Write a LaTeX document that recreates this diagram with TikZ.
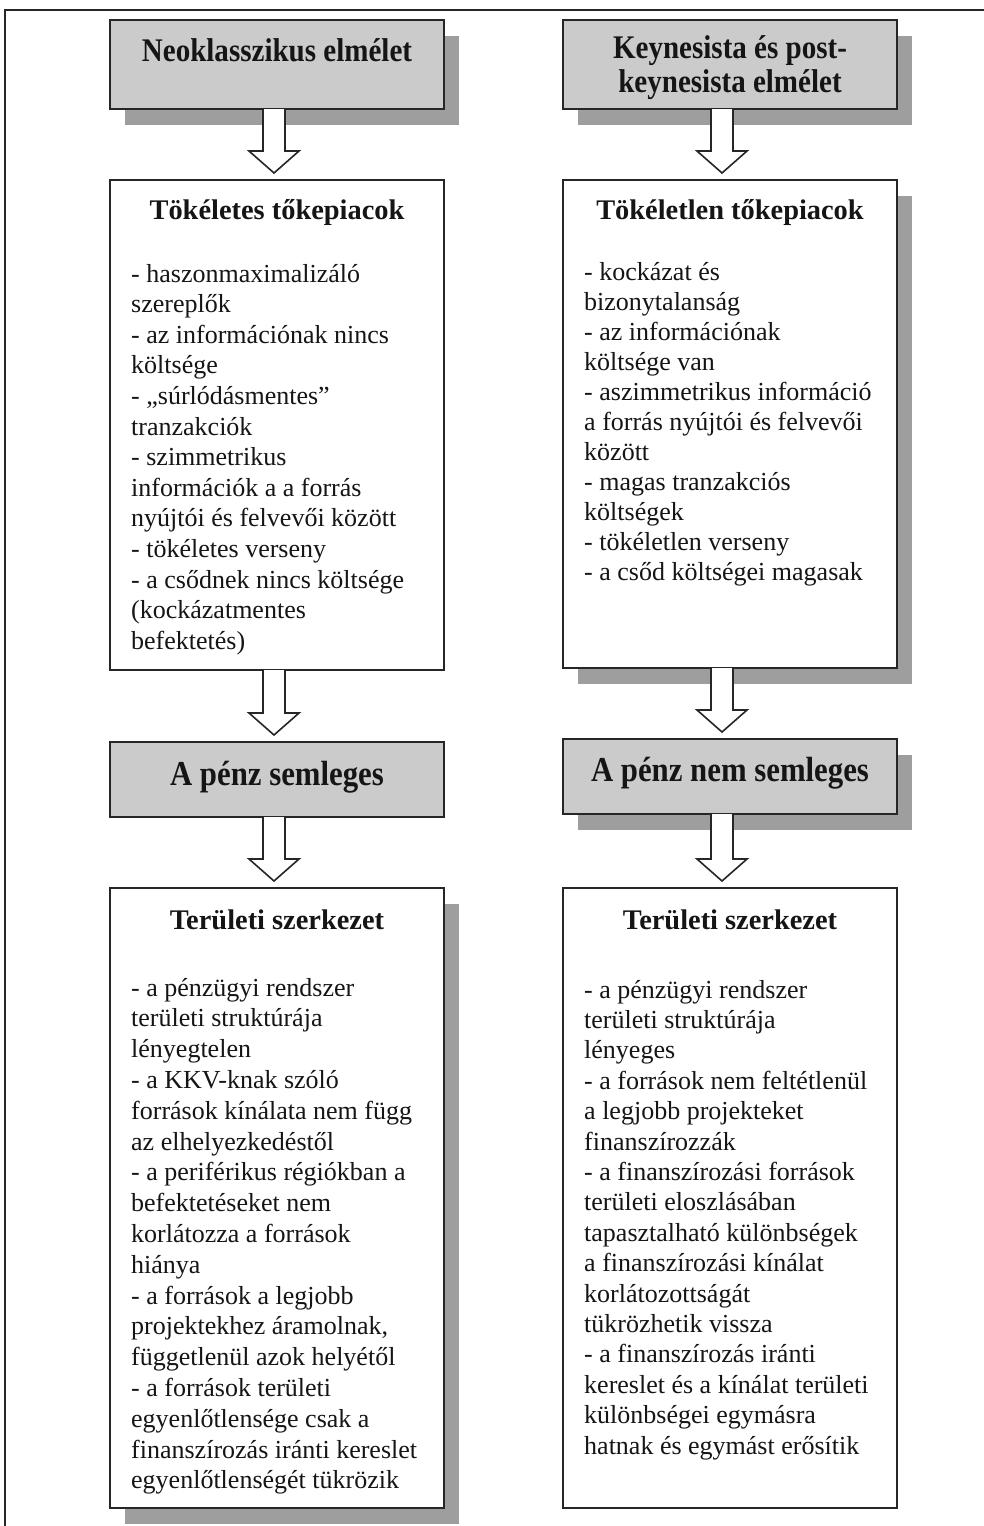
\documentclass[tikz,border=0pt]{standalone}
\usepackage{fontspec}
\setmainfont{Liberation Serif}
\newfontfamily\bodyfont{Liberation Serif}[FakeStretch=1.0]
\newfontfamily\hdfont{Liberation Serif}[FakeStretch=0.88]
\usetikzlibrary{calc,shadows}
\definecolor{linec}{HTML}{262626}
\definecolor{hdrgray}{HTML}{CBCBCB}
\definecolor{shgray}{HTML}{9E9E9E}
\definecolor{textc}{HTML}{151515}
\tikzset{
  box/.style={draw=linec, line width=2.2pt, inner sep=0pt, outer sep=0pt, anchor=north west, fill=white, minimum width=334pt},
  grayhdr/.style={box, fill=hdrgray},
  shad/.style={drop shadow={shadow xshift=15pt, shadow yshift=-16pt, opacity=1, fill=shgray}},
  bodytxt/.style={anchor=base west, inner sep=0pt, text=textc, font=\bodyfont\fontsize{26}{30}\selectfont},
  ttl/.style={anchor=base, inner sep=0pt, text=textc, font=\rmfamily\bfseries\fontsize{28.4}{30}\selectfont},
  hdrtxt/.style={anchor=base, inner sep=0pt, text=textc, font=\hdfont\bfseries\fontsize{33}{34}\selectfont},
  hdrtxtb/.style={anchor=base, inner sep=0pt, text=textc, font=\hdfont\bfseries\fontsize{35}{36}\selectfont},
  barrowstyle/.style={draw=linec, line width=1.6pt, fill=white, line join=miter},
  frame/.style={draw=linec, line width=2pt}
}
\newcommand\blockarrow[3]{%
  \filldraw[barrowstyle] let \p1=(#1 |- #2.south), \p2=(#1 |- #3.north) in
    (\x1-11,\y1) -- (\x1-11,\y2+29) -- (\x1-25,\y2+29) -- (\x1,\y2+7)
    -- (\x1+25,\y2+29) -- (\x1+11,\y2+29) -- (\x1+11,\y1);}
\begin{document}
\begin{tikzpicture}[x=1pt,y=-1pt]
\useasboundingbox (0,0) rectangle (984,1526);
\fill[white] (0,0) rectangle (984,1526);
\draw[frame] (984,10) -- (5,10) -- (5,1526);

\coordinate (colL) at (274,0);
\coordinate (colR) at (722,0);

% boxes
\node[grayhdr, shad, minimum height=89pt] (b1) at (110,20) {};
\node[grayhdr, shad, minimum height=89pt] (b2) at (563,20) {};
\node[box, minimum height=490pt] (b3) at (110,180) {};
\node[box, shad, minimum height=488pt] (b4) at (563,180) {};
\node[grayhdr, minimum height=75pt] (b5) at (110,742) {};
\node[grayhdr, shad, minimum height=75pt] (b6) at (563,739) {};
\node[box, shad, minimum height=620pt] (b7) at (110,888) {};
\node[box, minimum height=620pt] (b8) at (563,888) {};

% arrows
\blockarrow{colL}{b1}{b3}
\blockarrow{colR}{b2}{b4}
\blockarrow{colL}{b3}{b5}
\blockarrow{colR}{b4}{b6}
\blockarrow{colL}{b5}{b7}
\blockarrow{colR}{b6}{b8}

% header texts
\node[hdrtxt] (h1) at (277,61) {Neoklasszikus elmélet};
\node[hdrtxt] (h2a) at (730,58) {Keynesista és post-};
\node[hdrtxt] (h2b) at (730,92) {keynesista elmélet};
\node[hdrtxtb] (h5) at (277,785) {A pénz semleges};
\node[hdrtxtb] (h6) at (730,781) {A pénz nem semleges};

% titles
\node[ttl] (t3) at (277,219) {Tökéletes tőkepiacok};
\node[ttl] (t4) at (730,219) {Tökéletlen tőkepiacok};
\node[ttl] (t7) at (277,929) {Területi szerkezet};
\node[ttl] (t8) at (730,929) {Területi szerkezet};

% body texts
\foreach \t [count=\i from 0] in {{- haszonmaximalizáló}, {szereplők}, {- az információnak nincs}, {költsége}, {- „súrlódásmentes”}, {tranzakciók}, {- szimmetrikus}, {információk a a forrás}, {nyújtói és felvevői között}, {- tökéletes verseny}, {- a csődnek nincs költsége}, {(kockázatmentes}, {befektetés)}}
  \node[bodytxt] (l3-\i) at (131,282+30.6*\i) {\t};

\foreach \t [count=\i from 0] in {{- kockázat és}, {bizonytalanság}, {- az információnak}, {költsége van}, {- aszimmetrikus információ}, {a forrás nyújtói és felvevői}, {között}, {- magas tranzakciós}, {költségek}, {- tökéletlen verseny}, {- a csőd költségei magasak}}
  \node[bodytxt] (l4-\i) at (584,280+30*\i) {\t};

\foreach \t [count=\i from 0] in {{- a pénzügyi rendszer}, {területi struktúrája}, {lényegtelen}, {- a KKV-knak szóló}, {források kínálata nem függ}, {az elhelyezkedéstől}, {- a periférikus régiókban a}, {befektetéseket nem}, {korlátozza a források}, {hiánya}, {- a források a legjobb}, {projektekhez áramolnak,}, {függetlenül azok helyétől}, {- a források területi}, {egyenlőtlensége csak a}, {finanszírozás iránti kereslet}, {egyenlőtlenségét tükrözik}}
  \node[bodytxt] (l7-\i) at (131,996+30.8*\i) {\t};

\foreach \t [count=\i from 0] in {{- a pénzügyi rendszer}, {területi struktúrája}, {lényeges}, {- a források nem feltétlenül}, {a legjobb projekteket}, {finanszírozzák}, {- a finanszírozási források}, {területi eloszlásában}, {tapasztalható különbségek}, {a finanszírozási kínálat}, {korlátozottságát}, {tükrözhetik vissza}, {- a finanszírozás iránti}, {kereslet és a kínálat területi}, {különbségei egymásra}, {hatnak és egymást erősítik}}
  \node[bodytxt] (l8-\i) at (584,998+30.4*\i) {\t};
\end{tikzpicture}
\end{document}
